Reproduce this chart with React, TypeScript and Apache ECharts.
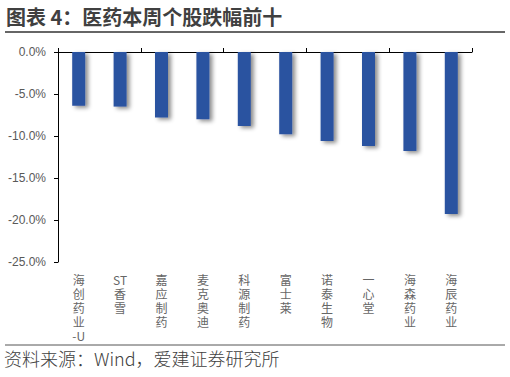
import React, { useEffect, useRef } from "react";
import * as echarts from "echarts";

const titleText = "图表 4：医药本周个股跌幅前十";
const sourceText = "资料来源：Wind，爱建证券研究所";
const categories = ["海创药业-U", "ST香雪", "嘉应制药", "麦克奥迪", "科源制药", "富士莱", "诺泰生物", "一心堂", "海森药业", "海辰药业"];
const values = [-6.4, -6.5, -7.8, -8.0, -8.8, -9.8, -10.6, -11.2, -11.8, -19.3];
const yMin = -25;
const yMax = 0;
const yStep = 5;

const vertical = (s: string) => (s.match(/[A-Za-z0-9\-]+|./g) || []).join("\n");

export default function App() {
  const ref = useRef<HTMLDivElement>(null);
  useEffect(() => {
    const chart = echarts.init(ref.current!, null, { renderer: "svg" });
    chart.setOption({
      animation: false,
      backgroundColor: "#ffffff",
      title: [
        {
          text: titleText,
          left: 6,
          top: 6,
          padding: 0,
          textStyle: { fontSize: 20, fontWeight: "bold", color: "#404040", fontFamily: "Noto Sans CJK SC" },
        },
        {
          text: sourceText,
          left: 4,
          top: 349,
          padding: 0,
          textStyle: { fontSize: 18, fontWeight: 300, color: "#404040", fontFamily: "Noto Sans CJK SC" },
        },
      ],
      graphic: [
        { type: "line", shape: { x1: 5, y1: 32, x2: 505, y2: 32 }, style: { stroke: "#333333", lineWidth: 1.6 } },
        { type: "line", shape: { x1: 5, y1: 345, x2: 505, y2: 345 }, style: { stroke: "#555555", lineWidth: 1 } },
      ],
      grid: { left: 58, right: 38, top: 52, bottom: 115 },
      xAxis: [
        {
          type: "category",
          data: categories,
          position: "top",
          axisLine: { show: true, onZero: true, lineStyle: { color: "#000000", width: 1 } },
          axisTick: { show: true, length: 4, lineStyle: { color: "#000000" } },
          axisLabel: { show: false },
        },
        {
          type: "category",
          data: categories,
          position: "bottom",
          axisLine: { show: false, onZero: false },
          axisTick: { show: false },
          axisLabel: {
            formatter: (v: string) => vertical(v),
            margin: 10,
            lineHeight: 14,
            fontSize: 12,
            color: "#666666",
            fontFamily: "Noto Sans CJK SC",
            verticalAlign: "top",
          },
        },
      ],
      yAxis: {
        type: "value",
        min: yMin,
        max: yMax,
        interval: yStep,
        axisLine: { show: true, lineStyle: { color: "#000000", width: 1 } },
        axisTick: { show: true, length: 4, lineStyle: { color: "#000000" } },
        splitLine: { show: false },
        axisLabel: {
          formatter: (v: number) => v.toFixed(1) + "%",
          color: "#595959",
          fontSize: 12,
          fontFamily: "Liberation Sans",
          margin: 12,
        },
      },
      series: [
        {
          type: "bar",
          xAxisIndex: 0,
          data: values,
          barWidth: 13,
          itemStyle: {
            color: "#2C52A0",
            shadowColor: "rgba(0,0,0,0.45)",
            shadowBlur: 4,
            shadowOffsetX: 3,
            shadowOffsetY: 2,
          },
        },
      ],
    });
    return () => chart.dispose();
  }, []);
  return (
    <div
      ref={ref}
      style={{ position: "absolute", left: 0, top: 0, width: 510, height: 377, background: "#fff" }}
    />
  );
}
